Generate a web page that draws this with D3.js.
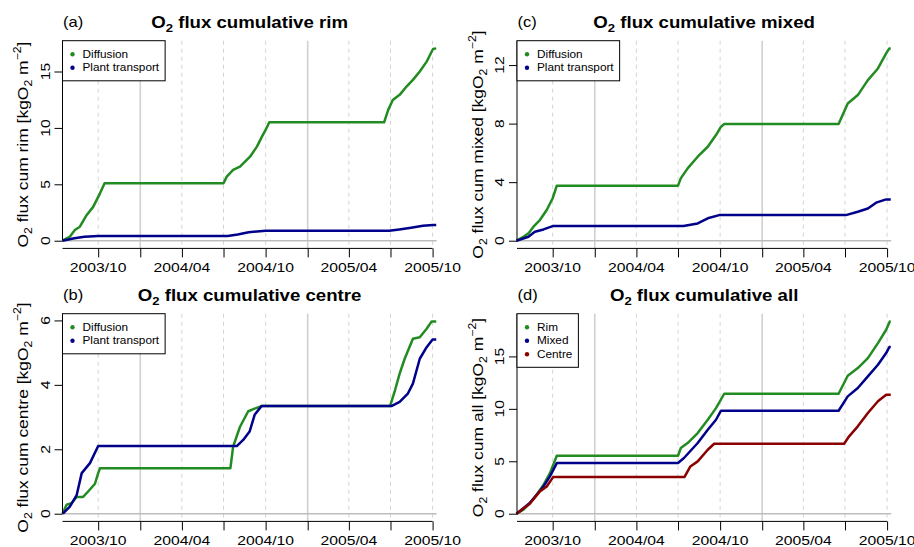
<!DOCTYPE html>
<html>
<head>
<meta charset="utf-8">
<script src="https://cdn.jsdelivr.net/npm/d3@7"></script>
<style>
  html, body { margin: 0; padding: 0; background: #fff; }
  svg { display: block; }
  text { font-family: "Liberation Sans", Arial, Helvetica, sans-serif; fill: #000; }
</style>
</head>
<body>
<svg id="chart" width="914" height="547"></svg>
<script>
// ---- Cumulative O2 flux series: [date, kgO2 m^-2] ----
const rimDiffusion = [["2003-07-15",0],["2003-07-24",0.2],["2003-07-31",0.35],["2003-08-11",0.95],["2003-08-22",1.24],["2003-09-06",2.28],["2003-09-20",3.0],["2003-10-05",4.2],["2003-10-15",5.09],["2004-07-01",5.09],["2004-07-08",5.68],["2004-07-22",6.27],["2004-08-06",6.57],["2004-08-28",7.45],["2004-09-12",8.34],["2004-09-23",9.23],["2004-10-01",9.82],["2004-10-09",10.5],["2005-06-17",10.5],["2005-06-26",11.6],["2005-07-06",12.48],["2005-07-21",12.93],["2005-08-05",13.67],["2005-08-19",14.26],["2005-09-03",15.0],["2005-09-18",15.88],["2005-10-02",17.0],["2005-10-09",17.05]];
const rimPlant = [["2003-07-15",0],["2003-08-10",0.22],["2003-09-01",0.35],["2003-10-01",0.42],["2004-07-10",0.42],["2004-08-01",0.55],["2004-08-25",0.75],["2004-10-01",0.89],["2005-06-28",0.89],["2005-07-20",1.0],["2005-08-15",1.15],["2005-09-10",1.32],["2005-10-02",1.39],["2005-10-09",1.4]];

const mixedDiffusion = [["2003-07-14",0],["2003-07-29",0.27],["2003-08-09",0.5],["2003-08-20",0.96],["2003-09-03",1.41],["2003-09-18",2.1],["2003-10-01",2.9],["2003-10-10",3.76],["2004-07-01",3.76],["2004-07-07",4.26],["2004-07-22",4.94],["2004-08-13",5.74],["2004-09-04",6.42],["2004-09-22",7.22],["2004-10-03",7.79],["2004-10-10",7.97],["2005-06-17",7.97],["2005-07-07",9.38],["2005-07-29",9.95],["2005-08-20",10.97],["2005-09-11",11.77],["2005-09-29",12.8],["2005-10-06",13.14],["2005-10-09",13.14]];
const mixedPlant = [["2003-07-14",0],["2003-08-09",0.27],["2003-08-23",0.61],["2003-09-11",0.77],["2003-10-01",1.0],["2004-07-13",1.0],["2004-08-13",1.18],["2004-09-04",1.53],["2004-09-29",1.75],["2005-07-03",1.75],["2005-07-29",1.98],["2005-08-20",2.2],["2005-09-07",2.6],["2005-09-29",2.82],["2005-10-09",2.82]];

const centreDiffusion = [["2003-07-15",0],["2003-07-24",0.28],["2003-08-04",0.33],["2003-08-15",0.52],["2003-08-29",0.52],["2003-09-09",0.69],["2003-09-24",0.93],["2003-10-01",1.26],["2003-10-05",1.41],["2004-07-16",1.41],["2004-07-22",2.08],["2004-08-06",2.7],["2004-08-24",3.18],["2004-09-07",3.26],["2004-09-22",3.34],["2005-06-30",3.34],["2005-07-11",3.84],["2005-07-21",4.35],["2005-08-01",4.81],["2005-08-19",5.43],["2005-09-03",5.48],["2005-09-18",5.74],["2005-09-29",5.97],["2005-10-09",5.97]];
const centrePlant = [["2003-07-16",0],["2003-07-31",0.22],["2003-08-15",0.58],["2003-08-26",1.26],["2003-09-13",1.57],["2003-10-01",2.1],["2004-07-30",2.1],["2004-08-13",2.29],["2004-08-27",2.55],["2004-09-07",3.07],["2004-09-22",3.34],["2005-07-03",3.34],["2005-07-21",3.47],["2005-08-08",3.73],["2005-08-19",4.04],["2005-09-03",4.81],["2005-09-18",5.17],["2005-10-01",5.41],["2005-10-09",5.41]];

const allRim = [["2003-07-14",0],["2003-07-29",0.38],["2003-08-12",1.02],["2003-08-27",1.81],["2003-09-11",2.76],["2003-09-25",3.87],["2003-10-10",5.53],["2004-07-01",5.53],["2004-07-07",6.26],["2004-07-22",6.74],["2004-08-13",7.69],["2004-09-04",8.96],["2004-09-22",10.07],["2004-10-10",11.44],["2005-06-17",11.44],["2005-07-07",13.16],["2005-07-29",13.89],["2005-08-20",14.84],["2005-09-11",16.27],["2005-09-29",17.54],["2005-10-07",18.34],["2005-10-09",18.34]];
const allMixed = [["2003-07-14",0],["2003-08-12",1.02],["2003-09-11",2.6],["2003-09-25",3.56],["2003-10-10",4.83],["2004-07-01",4.83],["2004-07-14",5.31],["2004-08-13",6.74],["2004-09-04",8.01],["2004-09-22",8.96],["2004-10-03",9.82],["2005-06-17",9.82],["2005-07-07",11.19],["2005-07-29",11.99],["2005-08-20",13.1],["2005-09-11",14.21],["2005-09-29",15.32],["2005-10-06",15.9],["2005-10-09",15.9]];
const allCentre = [["2003-07-14",0],["2003-08-12",0.95],["2003-09-03",2.13],["2003-09-18",2.6],["2003-10-02",3.49],["2004-07-15",3.49],["2004-07-28",4.51],["2004-08-13",4.99],["2004-09-04",6.1],["2004-09-18",6.67],["2005-06-29",6.67],["2005-07-10",7.38],["2005-07-29",8.33],["2005-08-20",9.6],["2005-09-11",10.72],["2005-09-29",11.35],["2005-10-09",11.35]];

// ---- Axis ticks ----
const timeRange = ["2003-07-15", "2005-10-10"];
const monthTicks = ["2003-10-01","2004-01-01","2004-04-01","2004-07-01","2004-10-01","2005-01-01","2005-04-01","2005-07-01","2005-10-01"];
const yearTicks = ["2004-01-01","2005-01-01"];
const xTickLabels = ["2003/10","2004/04","2004/10","2005/04","2005/10"];
const rimTicks = [0, 5, 10, 15];
const mixedTicks = [0, 4, 8, 12];
const centreTicks = [0, 2, 4, 6];
const allTicks = [0, 5, 10, 15];

// ---- Colours ----
const green = "#228B22", blue = "#00008B", red = "#8B0000";

const panels = [
  { tag: "(a)", name: "rim",    col: 0, row: 0, ticks: rimTicks,
    series: [{ label: "Diffusion", color: green, data: rimDiffusion }, { label: "Plant transport", color: blue, data: rimPlant }] },
  { tag: "(c)", name: "mixed",  col: 1, row: 0, ticks: mixedTicks,
    series: [{ label: "Diffusion", color: green, data: mixedDiffusion }, { label: "Plant transport", color: blue, data: mixedPlant }] },
  { tag: "(b)", name: "centre", col: 0, row: 1, ticks: centreTicks,
    series: [{ label: "Diffusion", color: green, data: centreDiffusion }, { label: "Plant transport", color: blue, data: centrePlant }] },
  { tag: "(d)", name: "all",    col: 1, row: 1, ticks: allTicks,
    series: [{ label: "Rim", color: green, data: allRim }, { label: "Mixed", color: blue, data: allMixed }, { label: "Centre", color: red, data: allCentre }] }
];

const parseDate = d3.timeParse("%Y-%m-%d");
const parseLabel = d3.timeParse("%Y/%m");

// panel frame (local coordinates inside each quarter of the figure)
const colX = [0, 454.5], rowY = [0, 273];
const PL = 62.5, PR = 436.7, PT = 40.7, PB = 248.4;
const STRETCH = 1.18;   // glyphs run slightly wide along the writing direction

const svg = d3.select("#chart");

// text with optional sub/superscript parts
function richText(parent, x, y, rot, size, weight, anchor, parts) {
  const g = parent.append("g")
    .attr("transform", `translate(${x},${y}) rotate(${rot}) scale(${STRETCH},1)`);
  const t = g.append("text")
    .attr("font-size", size)
    .attr("font-weight", weight)
    .attr("text-anchor", anchor);
  let shift = 0;
  parts.forEach(p => {
    const target = p.sub ? 0.3 * size : p.sup ? -0.45 * size : 0;
    const ts = t.append("tspan").text(p.t).attr("dy", target - shift);
    if (p.sub || p.sup) ts.attr("font-size", size * 0.7);
    shift = target;
  });
  return t;
}

panels.forEach(p => {
  const g = svg.append("g").attr("transform", `translate(${colX[p.col]},${rowY[p.row]})`);

  const x = d3.scaleTime().domain(timeRange.map(parseDate)).range([PL, PR]);
  const ymax = d3.max(p.series, s => d3.max(s.data, d => d[1]));
  const y = d3.scaleLinear().domain([-0.04 * ymax, 1.04 * ymax]).range([PB, PT]);

  // vertical grid: dashed at quarters, solid at year starts
  monthTicks.forEach(m => {
    const isYear = yearTicks.includes(m);
    g.append("line")
      .attr("x1", x(parseDate(m))).attr("x2", x(parseDate(m)))
      .attr("y1", PT).attr("y2", PB)
      .attr("stroke", isYear ? "#d0d0d0" : "#d4d4d4")
      .attr("stroke-width", isYear ? 1.6 : 1)
      .attr("stroke-dasharray", isYear ? null : "4,4");
  });

  // zero reference line
  g.append("line")
    .attr("x1", PL).attr("x2", PR)
    .attr("y1", y(0)).attr("y2", y(0))
    .attr("stroke", "#bdbdbd").attr("stroke-width", 1.5);

  // series
  const line = d3.line().x(d => x(parseDate(d[0]))).y(d => y(d[1]));
  p.series.forEach(s => {
    g.append("path").datum(s.data)
      .attr("d", line)
      .attr("fill", "none")
      .attr("stroke", s.color)
      .attr("stroke-width", 2.5)
      .attr("stroke-linejoin", "round")
      .attr("stroke-linecap", "butt");
  });

  // y axis: ticks from the axis generator, line from zero to the top
  const yAxis = g.append("g").attr("transform", `translate(${PL},0)`)
    .call(d3.axisLeft(y).tickValues(p.ticks).tickSize(8).tickFormat(""));
  yAxis.select(".domain").remove();
  yAxis.selectAll(".tick line").attr("stroke", "#000").attr("stroke-width", 1);
  g.append("line").attr("x1", PL).attr("x2", PL).attr("y1", PT).attr("y2", y(0))
    .attr("stroke", "#000").attr("stroke-width", 1);
  p.ticks.forEach(v => {
    richText(g, 49.5, y(v), -90, 13.3, "normal", "middle", [{ t: String(v) }]);
  });

  // x axis
  const xAxis = g.append("g").attr("transform", `translate(0,${PB})`)
    .call(d3.axisBottom(x).tickValues(monthTicks.map(parseDate)).tickSize(9).tickFormat(""));
  xAxis.select(".domain").remove();
  xAxis.selectAll(".tick line").attr("stroke", "#000").attr("stroke-width", 1);
  g.append("line").attr("x1", PL).attr("x2", x(parseDate(monthTicks[monthTicks.length - 1])))
    .attr("y1", PB).attr("y2", PB).attr("stroke", "#000").attr("stroke-width", 1);
  xTickLabels.forEach(lbl => {
    richText(g, x(parseLabel(lbl)), 272, 0, 13.3, "normal", "middle", [{ t: lbl }]);
  });

  // y label
  richText(g, 28, (PT + PB) / 2, -90, 14.8, "normal", "middle", [
    { t: "O" }, { t: "2", sub: true }, { t: ` flux cum ${p.name} [kgO` }, { t: "2", sub: true },
    { t: " m" }, { t: "\u22122", sup: true }, { t: "]" }
  ]);

  // title and panel tag
  richText(g, (PL + PR) / 2, 27.5, 0, 15.8, "bold", "middle", [
    { t: "O" }, { t: "2", sub: true }, { t: ` flux cumulative ${p.name}` }
  ]);
  richText(g, 63, 27.3, 0, 14, "normal", "start", [{ t: p.tag }]);

  // legend
  const lg = g.append("g");
  const box = lg.append("rect").attr("x", PL).attr("y", PT)
    .attr("fill", "#fff").attr("stroke", "#000").attr("stroke-width", 1);
  let maxLen = 0;
  p.series.forEach((s, i) => {
    const cy = PT + 13.6 + i * 13.5;
    lg.append("circle").attr("cx", PL + 10).attr("cy", cy).attr("r", 2.2).attr("fill", s.color);
    const t = richText(lg, PL + 20, cy + 3.6, 0, 10, "normal", "start", [{ t: s.label }]);
    maxLen = Math.max(maxLen, t.node().getComputedTextLength() * STRETCH);
  });
  box.attr("width", 20 + maxLen + 6).attr("height", 13.6 + (p.series.length - 1) * 13.5 + 13);
});
</script>
</body>
</html>
